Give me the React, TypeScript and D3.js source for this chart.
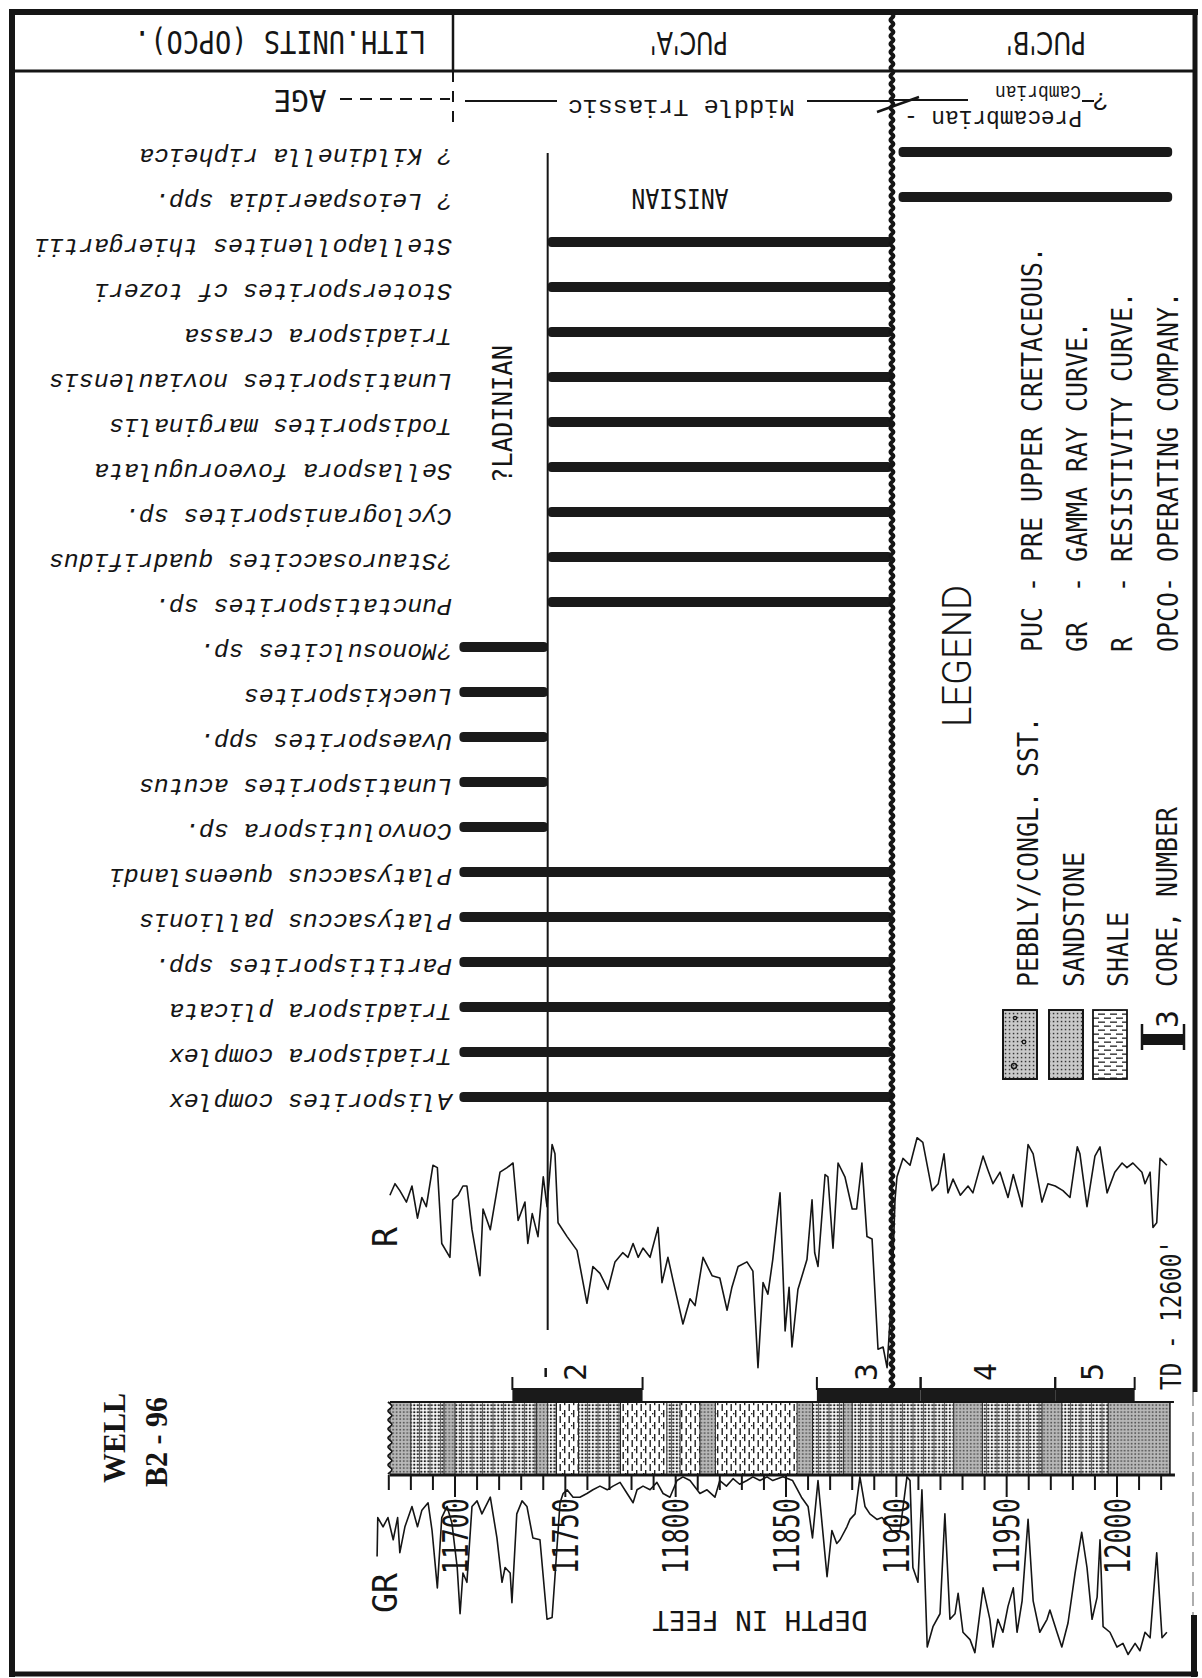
import React from 'react';
import * as d3 from 'd3';

const W = 1202;
const H = 1678;

// ---------- DATA ----------
const speciesNames = [
  '? Kildinella ripheica',
  '? Leiospaeridia spp.',
  'Stellapollenites thiergartii',
  'Stotersporites cf tozeri',
  'Triadispora crassa',
  'Lunatisporites noviaulensis',
  'Todisporites marginalis',
  'Sellaspora foveorugulata',
  'Cyclogranisporites sp.',
  '?Staurosaccites quadrifidus',
  'Punctatisporites sp.',
  '?Monosulcites sp.',
  'Lueckisporites',
  'Uvaesporites spp.',
  'Lunatisporites acutus',
  'Convolutispora sp.',
  'Platysaccus queenslandi',
  'Platysaccus pallionis',
  'Partitisporites spp.',
  'Triadispora plicata',
  'Triadispora complex',
  'Alisporites complex',
];
// range top / base depth (ft) for each species
const rangeTops = [11901, 11901, 11742, 11742, 11742, 11742, 11742, 11742, 11742, 11742, 11742,
  11702, 11702, 11702, 11702, 11702, 11702, 11702, 11702, 11702, 11702, 11702];
const rangeBases = [12025, 12025, 11898, 11898, 11898, 11898, 11898, 11898, 11898, 11898, 11898,
  11742, 11742, 11742, 11742, 11742, 11898, 11898, 11898, 11898, 11898, 11898];

const pucBoundaryDepth = 11898;
const ladinianBoundaryDepth = 11742;
const columnTop = 11670.5;
const columnBase = 12024;

const depthLabels = [11700, 11750, 11800, 11850, 11900, 11950, 12000];
const depthTicks = d3.range(11670, 12021, 10);

const coreNumbers = ['2', '3', '4', '5'];
const coreTops = [11726, 11864, 11911, 11972];
const coreBases = [11785, 11911, 11972, 12008];

// lithology intervals [top, base, type]  S = sandstone, P = pebbly/congl. sst, H = shale
const lithology: [number, number, string][] = [
  [11670.5, 11680, 'P'], [11680, 11695, 'S'], [11695, 11700, 'P'], [11700, 11737, 'S'],
  [11737, 11742, 'P'], [11742, 11746, 'S'], [11746, 11756, 'H'], [11756, 11775, 'S'],
  [11775, 11796, 'H'], [11796, 11802, 'S'], [11802, 11811, 'H'], [11811, 11818, 'P'],
  [11818, 11855, 'H'], [11855, 11862, 'P'], [11862, 11876, 'S'], [11876, 11880, 'P'],
  [11880, 11926, 'S'], [11926, 11939, 'P'], [11939, 11966, 'S'], [11966, 11975, 'P'],
  [11975, 11996, 'S'], [11996, 12024, 'P'],
];

// resistivity log [depth, relative value]
const rLog: [number, number][] = [
  [11670.5, 76], [11672.8, 81], [11675, 78], [11678, 73], [11680.5, 80], [11683, 66], [11685, 75],
  [11687, 71], [11690, 89], [11692, 88], [11694, 55], [11697.7, 49], [11699, 74], [11701.4, 76],
  [11703.6, 80], [11705.4, 80], [11707.7, 61], [11711.3, 41], [11712.7, 70], [11716, 61],
  [11720.4, 86], [11723.6, 88], [11726.3, 90], [11728.6, 65], [11731.7, 73], [11733, 55],
  [11735, 68], [11737.6, 58], [11740, 84], [11741.7, 71], [11744, 98], [11745.3, 94],
  [11746.7, 64], [11750.8, 58], [11755.3, 52], [11759.8, 29], [11762.5, 45], [11765.7, 42],
  [11769.3, 35], [11772.5, 47], [11776, 51], [11778.4, 49], [11780.7, 55], [11783, 49],
  [11785.2, 53], [11788.4, 49], [11792, 62], [11793.8, 38], [11796.5, 49], [11798.8, 39],
  [11803.3, 20], [11806.5, 31], [11808.8, 28], [11812.4, 49], [11816.5, 41], [11820, 40],
  [11823.3, 26], [11825.5, 36], [11828.3, 45], [11832.3, 47], [11835, 43], [11837.3, 1],
  [11839.6, 38], [11841.8, 33], [11844, 48], [11847.3, 77], [11849.6, 17], [11851.4, 36],
  [11852.7, 10], [11855.4, 35], [11859.5, 48], [11861.8, 74], [11863, 51], [11864.5, 45],
  [11867.7, 85], [11869, 84], [11871.3, 53], [11873.6, 90], [11876.7, 84], [11880, 70],
  [11882, 70], [11884.4, 90], [11886.7, 58], [11889, 57], [11891.7, 9], [11894, 10],
  [11895.8, 1], [11898, 35], [11899.4, 74], [11900.3, 84], [11903, 92], [11906.2, 89],
  [11909.4, 101], [11912, 99], [11916.2, 78], [11919, 81], [11921.6, 94], [11923.4, 77],
  [11925.7, 83], [11929, 76], [11932.5, 80], [11934.7, 77], [11939.3, 93], [11941.5, 87],
  [11943.8, 81], [11947, 86], [11950.6, 75], [11953, 85], [11957, 71], [11959.7, 98],
  [11962, 94], [11966, 73], [11968.7, 81], [11972, 80], [11975.5, 78], [11978.7, 75],
  [11982, 97], [11983.2, 94], [11986.4, 71], [11990, 93], [11992.3, 97], [11995.5, 77],
  [11999, 86], [12002.3, 90], [12004.5, 88], [12007.2, 90], [12011.3, 86], [12012.7, 81],
  [12015, 86], [12016.3, 62], [12018, 64], [12019.5, 92], [12022.6, 89],
];

// gamma ray log [depth, relative value]
const grLog: [number, number][] = [
  [11664.7, 56], [11665, 77], [11667.4, 72], [11669.6, 77], [11672, 65], [11674, 77], [11675, 58],
  [11677.3, 72], [11680.5, 83], [11683, 72], [11685, 81], [11687.8, 85], [11689.6, 70],
  [11692, 39], [11694, 77], [11696.4, 83], [11698.6, 74], [11701, 50], [11702.3, 25],
  [11703.6, 47], [11705.4, 42], [11707.7, 83], [11710, 86], [11712.2, 79], [11716, 88],
  [11719, 66], [11721.3, 42], [11722.7, 50], [11725, 47], [11725.8, 31], [11728, 79],
  [11730.4, 86], [11732.6, 83], [11735.3, 66], [11738.5, 65], [11741.7, 22], [11744, 23],
  [11745.3, 45], [11747.6, 85], [11749, 90], [11750.8, 92], [11753.5, 88], [11756.6, 88],
  [11759.8, 90], [11762.5, 92], [11765.7, 94], [11769, 92], [11771.6, 94], [11774.8, 96],
  [11778, 90], [11780.7, 85], [11782.5, 92], [11785.2, 94], [11788.4, 92], [11791.5, 96],
  [11794.3, 90], [11797.4, 88], [11800.6, 97], [11803.3, 99], [11806.5, 97], [11811, 90],
  [11814.2, 92], [11817.8, 88], [11820, 97], [11823, 94], [11826, 98], [11829, 95],
  [11832.3, 97], [11835, 99], [11838.2, 97], [11841.4, 99], [11844, 97], [11848.6, 99],
  [11853, 97], [11857, 88], [11860, 83], [11862, 66], [11864.5, 97], [11868.6, 45],
  [11870.8, 70], [11873, 63], [11874.5, 65], [11877.6, 72], [11879, 76], [11881.3, 79],
  [11883.5, 99], [11885.8, 83], [11888, 79], [11891.2, 76], [11893.5, 77], [11895.8, 74],
  [11898.5, 69], [11901.7, 70], [11904.8, 99], [11906.2, 97], [11907.5, 50], [11909.8, 42],
  [11911.6, 92], [11914, 7], [11916.6, 18], [11919.8, 25], [11922, 79], [11924.3, 22],
  [11926.6, 25], [11928, 36], [11930.2, 15], [11933.4, 11], [11935.6, 4], [11939.3, 39],
  [11942.4, 22], [11943.8, 7], [11946, 22], [11948.3, 15], [11950.6, 29], [11953, 39],
  [11954.7, 15], [11957, 32], [11959.7, 76], [11962, 32], [11965, 15], [11968.3, 22],
  [11969.6, 27], [11972.8, 15], [11975, 7], [11977.8, 20], [11981, 47], [11984, 69],
  [11986.4, 50], [11988.7, 22], [11991, 34], [11992.3, 65], [11993.7, 18], [11996.8, 15],
  [12000, 7], [12002.7, 9], [12005, 3], [12008.2, 9], [12010.4, 5], [12012.7, 15],
  [12015, 12], [12018, 58], [12020.4, 12], [12022.6, 15],
];

const headerLabels = ['LITH.UNITS (OPCO).', "PUC'A'", "PUC'B'"];
const legendAbbrev = [
  'PUC - PRE UPPER CRETACEOUS.',
  'GR  - GAMMA RAY CURVE.',
  'R   - RESISTIVITY CURVE.',
  'OPCO- OPERATING COMPANY.',
];
const lithLegend = ['PEBBLY/CONGL. SST.', 'SANDSTONE', 'SHALE', 'CORE, NUMBER'];

// ---------- SCALES ----------
const xDepth = d3.scaleLinear().domain([11700, 12000]).range([455, 1117]);
const yRow = d3.scalePoint<string>().domain(speciesNames).range([155, 1100]);
const yR = d3.scaleLinear().domain([0, 100]).range([1370, 1140]);
const yGR = d3.scaleLinear().domain([0, 100]).range([1660, 1475]);

const MONO = "'DejaVu Sans Mono', 'Liberation Mono', monospace";
const TYPE = "'Liberation Mono', 'DejaVu Sans Mono', monospace";
const LIGHT = "Roboto, 'DejaVu Sans', sans-serif";
const INK = '#151515';

function RText(props: any) {
  const { x, y, rot, size, family, len, anchor, weight, italic, spacing, children } = props;
  return (
    <text
      transform={`translate(${x},${y}) rotate(${rot})`}
      textAnchor={anchor || 'start'}
      dominantBaseline="central"
      fontSize={size}
      fontFamily={family || MONO}
      fontWeight={weight}
      fontStyle={italic ? 'italic' : undefined}
      letterSpacing={spacing}
      textLength={len}
      lengthAdjust={len ? 'spacingAndGlyphs' : undefined}
      style={{ whiteSpace: 'pre' }}
      fill={INK}
    >
      {children}
    </text>
  );
}

function wavyV(x0: number, y0: number, y1: number, amp: number, step: number) {
  const pts: [number, number][] = d3.range(y0, y1 + 0.01, step).map((y, i) => [x0 + (i % 2 ? amp : -amp), y]);
  return d3.line().curve(d3.curveCardinal)(pts) || '';
}

export default function App() {
  const xb = xDepth(pucBoundaryDepth);
  const xl = xDepth(ladinianBoundaryDepth);
  const colX0 = xDepth(columnTop);
  const colX1 = xDepth(columnBase);
  const colY0 = 1402;
  const colY1 = 1475;

  const rPath = d3.line<[number, number]>().x(d => xDepth(d[0])).y(d => yR(d[1]))(rLog) || '';
  const grPath = d3.line<[number, number]>().x(d => xDepth(d[0])).y(d => yGR(d[1]))(grLog) || '';

  const lithFill: Record<string, string> = { S: 'url(#sand)', P: 'url(#pebbly)', H: 'url(#shale)' };

  return (
    <svg width={W} height={H} style={{ position: 'absolute', left: 0, top: 0, background: '#fff' }}>
      <defs>
        <pattern id="sand" patternUnits="userSpaceOnUse" width={10.5} height={3.5}>
          <rect width={10.5} height={3.5} fill="#fff" />
          <rect x={0.3} y={0.7} width={2} height={2} fill="#1e1e1e" />
          <rect x={3.8} y={0.7} width={2} height={2} fill="#1e1e1e" />
          <rect x={7.3} y={0.7} width={2} height={2} fill="#1e1e1e" />
          <rect x={9.8} y={0} width={0.9} height={3.5} fill="#2a2a2a" />
        </pattern>
        <pattern id="pebbly" patternUnits="userSpaceOnUse" width={10.5} height={3.5}>
          <rect width={10.5} height={3.5} fill="#b9b9b9" />
          <rect x={0.4} y={0.8} width={1.6} height={1.6} fill="#4a4a4a" />
          <rect x={3.9} y={0.8} width={1.6} height={1.6} fill="#4a4a4a" />
          <rect x={7.4} y={0.8} width={1.6} height={1.6} fill="#4a4a4a" />
        </pattern>
        <pattern id="shale" patternUnits="userSpaceOnUse" width={9} height={12}>
          <rect width={9} height={12} fill="#fff" />
          <rect x={1.5} y={0} width={1.4} height={7} fill="#222" />
          <rect x={6} y={6} width={1.4} height={6} fill="#222" />
          <rect x={6} y={0} width={1.4} height={1.2} fill="#222" />
          <rect x={4} y={9} width={1.4} height={1.4} fill="#222" />
        </pattern>
        <pattern id="shaleH" patternUnits="userSpaceOnUse" width={12} height={8}>
          <rect width={12} height={8} fill="#fff" />
          <rect x={0} y={1.5} width={7} height={1.3} fill="#222" />
          <rect x={6} y={5.5} width={6} height={1.3} fill="#222" />
          <rect x={0} y={5.5} width={1} height={1.3} fill="#222" />
        </pattern>
        <pattern id="dots" patternUnits="userSpaceOnUse" width={4} height={4}>
          <rect x={0.8} y={0.8} width={1.5} height={1.5} fill="#333" />
        </pattern>
      </defs>

      {/* ---------- FRAME ---------- */}
      <g stroke={INK} fill="none">
        <line x1={9} y1={12} x2={1198} y2={12} strokeWidth={6} />
        <line x1={12} y1={9} x2={12} y2={1677} strokeWidth={6} />
        <line x1={9} y1={1674} x2={1198} y2={1674} strokeWidth={5} />
        <line x1={1195} y1={9} x2={1195} y2={1392} strokeWidth={5} />
        <line x1={1193} y1={1392} x2={1193} y2={1615} strokeWidth={1.2} stroke="#777" strokeDasharray="14,6" />
        <line x1={1194} y1={1615} x2={1194} y2={1677} strokeWidth={6} />
        {/* header */}
        <line x1={12} y1={71} x2={1195} y2={71} strokeWidth={3} />
        <line x1={453} y1={12} x2={453} y2={71} strokeWidth={2.5} />
        <line x1={453} y1={71} x2={453} y2={128} strokeWidth={2} strokeDasharray="11,9" />
      </g>

      {/* header labels */}
      <RText x={280} y={42} rot={180} size={32} len={292} anchor="middle">{headerLabels[0]}</RText>
      <RText x={689} y={43} rot={180} size={32} len={78} anchor="middle" family="'DejaVu Sans', sans-serif">{headerLabels[1]}</RText>
      <RText x={1046} y={43} rot={180} size={32} len={80} anchor="middle" family="'DejaVu Sans', sans-serif">{headerLabels[2]}</RText>

      {/* AGE row */}
      <RText x={300} y={100} rot={180} size={30} len={53} anchor="middle">AGE</RText>
      <line x1={340} y1={99} x2={450} y2={99} stroke={INK} strokeWidth={2} strokeDasharray="12,8" />
      <line x1={465} y1={101} x2={557} y2={101} stroke={INK} strokeWidth={2} />
      <RText x={681} y={106} rot={180} size={24} len={227} anchor="middle" family={TYPE}>Middle Triassic</RText>
      <line x1={807} y1={101} x2={xb} y2={101} stroke={INK} strokeWidth={2} />
      <line x1={xb} y1={100} x2={968} y2={100} stroke={INK} strokeWidth={1.8} />
      <line x1={877} y1={112} x2={919} y2={97} stroke={INK} strokeWidth={2.5} />
      <RText x={993} y={117} rot={180} size={24} len={178} anchor="middle" family={TYPE}>Precambrian -</RText>
      <RText x={1038} y={91} rot={180} size={20} len={86} anchor="middle" family={TYPE}>Cambrian</RText>
      <line x1={1082} y1={101} x2={1094} y2={101} stroke={INK} strokeWidth={2} />
      <RText x={1100} y={100} rot={180} size={26} anchor="middle" family={TYPE}>?</RText>

      {/* stage labels */}
      <RText x={680} y={198} rot={180} size={26} len={97} anchor="middle">ANISIAN</RText>
      <RText x={502} y={483} rot={-90} size={27} len={138}>?LADINIAN</RText>

      {/* Ladinian / Anisian line */}
      <line x1={xl} y1={153} x2={xl} y2={1330} stroke={INK} strokeWidth={2} />
      <line x1={xl - 2} y1={1368} x2={xl - 2} y2={1377} stroke={INK} strokeWidth={2.5} />

      {/* ---------- SPECIES RANGES ---------- */}
      {speciesNames.map((name, i) => {
        const y = yRow(name) as number;
        const x0 = xDepth(rangeTops[i]);
        const x1 = xDepth(rangeBases[i]);
        return (
          <g key={name}>
            <rect x={x0} y={y - 8} width={x1 - x0} height={10} rx={4} fill="#1a1a1a" />
            <RText x={452} y={y} rot={180} size={24} len={name.length * 15 - 2} family={TYPE} italic>
              {name}
            </RText>
          </g>
        );
      })}

      {/* PUC A / B boundary (wavy) */}
      <path d={wavyV(xb, 12, 1392, 1.5, 4)} stroke={INK} strokeWidth={4} fill="none" />

      {/* ---------- LEGEND ---------- */}
      <RText x={957.5} y={727} rot={-90} size={40} len={142} family={LIGHT} weight={300}>LEGEND</RText>
      {legendAbbrev.map((t, i) => (
        <RText key={t} x={1032.5 + i * 45.2} y={652} rot={-90} size={28} len={t.length * 15}>{t}</RText>
      ))}
      {lithLegend.map((t, i) => (
        <RText key={t} x={[1028, 1074, 1118, 1167][i]} y={987} rot={-90} size={28} len={t.length * 15}>{t}</RText>
      ))}
      {/* legend boxes */}
      <g stroke={INK} strokeWidth={1.8}>
        <rect x={1003} y={1010} width={34} height={69} fill="#c9c9c9" />
        <rect x={1003} y={1010} width={34} height={69} fill="url(#dots)" />
        <rect x={1049} y={1010} width={34} height={69} fill="#c9c9c9" />
        <rect x={1049} y={1010} width={34} height={69} fill="url(#dots)" />
        <rect x={1093} y={1010} width={34} height={69} fill="url(#shaleH)" />
      </g>
      <circle cx={1014} cy={1066} r={2.5} fill="none" stroke={INK} strokeWidth={1.5} />
      <circle cx={1024} cy={1042} r={1.8} fill="none" stroke={INK} strokeWidth={1.3} />
      <circle cx={1015} cy={1018} r={1.6} fill="none" stroke={INK} strokeWidth={1.3} />
      <g stroke={INK}>
        <rect x={1141} y={1034} width={44} height={11} fill={INK} stroke="none" />
        <line x1={1142} y1={1024} x2={1142} y2={1050} strokeWidth={2.5} />
        <line x1={1184} y1={1024} x2={1184} y2={1050} strokeWidth={2.5} />
      </g>
      <RText x={1167} y={1019} rot={-90} size={30} anchor="middle">3</RText>

      {/* ---------- LOGS ---------- */}
      <RText x={385} y={1247} rot={-90} size={34} len={20}>R</RText>
      <path d={rPath} fill="none" stroke={INK} strokeWidth={1.6} strokeLinejoin="round" />

      {/* cores */}
      {coreNumbers.map((n, i) => {
        const x0 = xDepth(coreTops[i]);
        const x1 = xDepth(coreBases[i]);
        return (
          <g key={n}>
            <rect x={x0} y={1388} width={x1 - x0} height={14} fill="#1a1a1a" />
            <line x1={x0} y1={1377} x2={x0} y2={1390} stroke={INK} strokeWidth={2} />
            <line x1={x1} y1={1377} x2={x1} y2={1390} stroke={INK} strokeWidth={2} />
            <RText x={(x0 + x1) / 2 - 2} y={1372} rot={-90} size={30} anchor="middle">{n}</RText>
          </g>
        );
      })}

      {/* lithology column */}
      {lithology.map(([t, b, k]) => (
        <rect key={t} x={xDepth(t)} y={colY0} width={xDepth(b) - xDepth(t)} height={colY1 - colY0} fill={lithFill[k]} />
      ))}
      {lithology.map(([t]) => (
        <line key={'b' + t} x1={xDepth(t)} y1={colY0} x2={xDepth(t)} y2={colY1} stroke="#222" strokeWidth={1} />
      ))}
      <line x1={colX0} y1={colY0} x2={colX1 + 4} y2={colY0} stroke={INK} strokeWidth={2} />
      <line x1={colX0} y1={colY1} x2={colX1 + 5} y2={colY1} stroke={INK} strokeWidth={3} />
      <line x1={colX1} y1={colY0} x2={colX1} y2={colY1} stroke={INK} strokeWidth={1.5} />
      <path d={wavyV(colX0, colY0, colY1, 2, 4.5)} stroke={INK} strokeWidth={1.6} fill="#fff" />

      {/* depth ticks */}
      {depthTicks.map(d => (
        <line key={d} x1={xDepth(d)} y1={colY1} x2={xDepth(d)} y2={d % 50 === 0 ? 1497 : 1490} stroke={INK} strokeWidth={2} />
      ))}

      {/* GR curve */}
      <path d={grPath} fill="none" stroke={INK} strokeWidth={1.6} strokeLinejoin="round" />
      <RText x={385} y={1613} rot={-90} size={34} len={40}>GR</RText>

      {/* depth labels */}
      {depthLabels.map(d => (
        <RText key={d} x={xDepth(d)} y={1574} rot={-90} size={36} len={76}>{String(d)}</RText>
      ))}
      <RText x={760} y={1620} rot={180} size={27} len={215} anchor="middle">DEPTH IN FEET</RText>

      <RText x={1171} y={1390} rot={-90} size={28} len={150}>TD - 12600'</RText>

      {/* well name */}
      <RText x={114} y={1483} rot={-90} size={31} len={90} weight="bold" family="'Liberation Serif', 'DejaVu Serif', serif">WELL</RText>
      <RText x={156} y={1487} rot={-90} size={31} len={90} weight="bold" family="'Liberation Serif', 'DejaVu Serif', serif">B2 - 96</RText>
    </svg>
  );
}
